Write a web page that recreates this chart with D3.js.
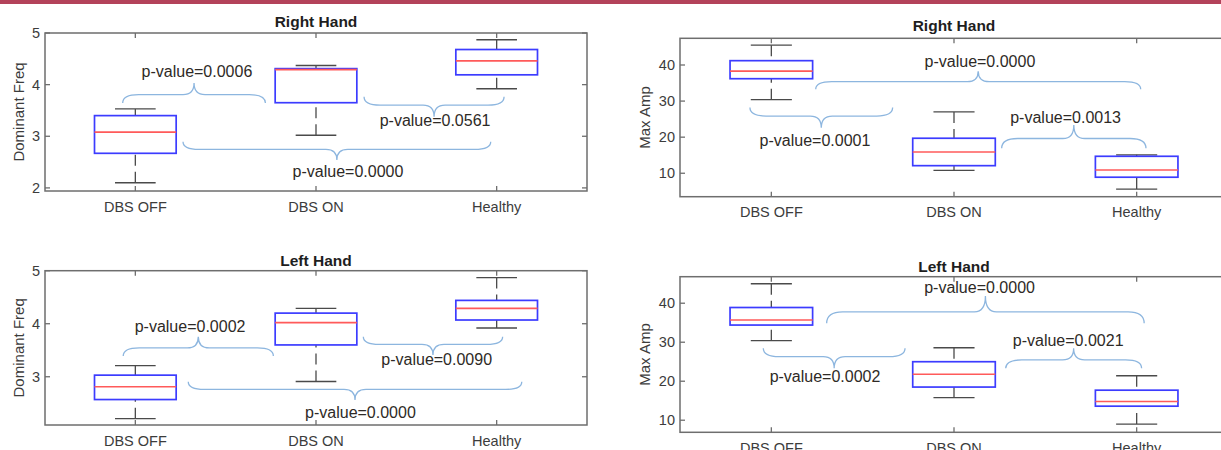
<!DOCTYPE html>
<html>
<head>
<meta charset="utf-8">
<script src="https://cdn.jsdelivr.net/npm/d3@7"></script>
<style>
  html, body { margin: 0; padding: 0; background: #fff; }
  svg { display: block; }
  text { font-family: "Liberation Sans", Arial, sans-serif; }
</style>
</head>
<body>
<svg id="chart" width="1221" height="450"></svg>
<script>
// ---------- DATA ----------
const categories = ["DBS OFF", "DBS ON", "Healthy"];

// box stats per category: [whiskerLow, q1, median, q3, whiskerHigh]
const rightFreqStats = [[2.10, 2.67, 3.08, 3.40, 3.53], [3.02, 3.65, 4.29, 4.31, 4.37], [3.92, 4.19, 4.46, 4.68, 4.87]];
const rightAmpStats  = [[30.4, 36.2, 38.3, 41.2, 45.5], [10.8, 12.1, 15.9, 19.7, 27.0], [5.6, 8.9, 10.9, 14.7, 15.1]];
const leftFreqStats  = [[2.21, 2.57, 2.81, 3.03, 3.21], [2.91, 3.60, 4.02, 4.20, 4.29], [3.92, 4.07, 4.29, 4.44, 4.87]];
const leftAmpStats   = [[30.4, 34.4, 35.7, 38.9, 45.0], [15.8, 18.5, 21.8, 25.0, 28.6], [9.0, 13.6, 14.8, 17.7, 21.4]];

const rightFreqTicks = [2, 3, 4, 5];
const leftFreqTicks  = [3, 4, 5];
const ampTicks       = [10, 20, 30, 40];

const rightFreqP = ["0.0006", "0.0561", "0.0000"];
const rightAmpP  = ["0.0000", "0.0001", "0.0013"];
const leftFreqP  = ["0.0002", "0.0090", "0.0000"];
const leftAmpP   = ["0.0000", "0.0002", "0.0021"];

// brace annotations in data coordinates (category units / y units)
const rightFreqBraces = [
  {x0: 0.93, x1: 1.72, yEnd: 3.644, yTip: 4.032, lx: 1.341, ly: 4.264},
  {x0: 2.266, x1: 3.041, yEnd: 3.766, yTip: 3.379, lx: 2.659, ly: 3.315},
  {x0: 1.264, x1: 2.967, yEnd: 2.895, yTip: 2.540, lx: 2.177, ly: 2.327}
];
const rightAmpBraces = [
  {x0: 1.243, x1: 3.022, yEnd: 33.3, yTip: 38.3, lx: 2.142, ly: 41.1},
  {x0: 0.883, x1: 1.664, yEnd: 28.2, yTip: 22.6, lx: 1.239, ly: 19.2},
  {x0: 2.261, x1: 3.051, yEnd: 16.9, yTip: 23.4, lx: 2.611, ly: 25.5}
];
const leftFreqBraces = [
  {x0: 0.933, x1: 1.764, yEnd: 3.391, yTip: 3.755, lx: 1.303, ly: 3.957},
  {x0: 2.262, x1: 3.033, yEnd: 3.755, yTip: 3.410, lx: 2.668, ly: 3.329},
  {x0: 1.293, x1: 3.139, yEnd: 2.906, yTip: 2.561, lx: 2.246, ly: 2.329}
];
const leftAmpBraces = [
  {x0: 1.303, x1: 3.041, yEnd: 34.85, yTip: 41.85, lx: 2.140, ly: 44.0},
  {x0: 0.956, x1: 1.732, yEnd: 28.44, yTip: 23.31, lx: 1.294, ly: 21.4},
  {x0: 2.283, x1: 3.027, yEnd: 23.31, yTip: 28.44, lx: 2.625, ly: 30.57}
];

// ---------- LAYOUT ----------
const panels = [
  {title: "Right Hand", ylabel: "Dominant Freq", stats: rightFreqStats, ticks: rightFreqTicks, ydom: [1.94, 5],
   box: {l: 45, r: 587, t: 33, b: 191}, braces: rightFreqBraces, pv: rightFreqP, titleOff: 5.7, ylabX: 18.3},
  {title: "Right Hand", ylabel: "Max Amp", stats: rightAmpStats, ticks: ampTicks, ydom: [3.5, 47.4],
   box: {l: 680, r: 1228, t: 38.3, b: 196.7}, braces: rightAmpBraces, pv: rightAmpP, titleOff: 7, ylabX: 645},
  {title: "Left Hand", ylabel: "Dominant Freq", stats: leftFreqStats, ticks: leftFreqTicks, ydom: [2.09, 5],
   box: {l: 45, r: 587, t: 270.7, b: 425}, braces: leftFreqBraces, pv: leftFreqP, titleOff: 5, ylabX: 18.3},
  {title: "Left Hand", ylabel: "Max Amp", stats: leftAmpStats, ticks: ampTicks, ydom: [6.9, 46.8],
   box: {l: 680, r: 1228, t: 276.7, b: 432.3}, braces: leftAmpBraces, pv: leftAmpP, titleOff: 5, ylabX: 645}
];

const svg = d3.select("#chart");

// top band
svg.append("rect").attr("x", 0).attr("y", 0).attr("width", 1221).attr("height", 4).attr("fill", "#b3425a");

const axisColor = "#6e6e6e";
const tickLen = 5;
const boxW = 0.452, capW = 0.225;

panels.forEach(p => {
  const b = p.box;
  const x = d3.scaleLinear().domain([0.5, 3.5]).range([b.l, b.r]);
  const y = d3.scaleLinear().domain(p.ydom).range([b.b, b.t]);
  const g = svg.append("g");

  // title
  g.append("text").attr("x", (b.l + b.r) / 2).attr("y", b.t - p.titleOff)
    .attr("text-anchor", "middle").attr("font-weight", "bold").attr("font-size", "15.5px")
    .attr("fill", "#1e1e1e").text(p.title);

  // y label
  g.append("text").attr("transform", `translate(${p.ylabX},${(b.t + b.b) / 2}) rotate(-90)`)
    .attr("text-anchor", "middle").attr("dy", "0.35em").attr("font-size", "15px")
    .attr("fill", "#3c3c3c").text(p.ylabel);

  // boxes
  p.stats.forEach((s, i) => {
    const c = i + 1;
    const [wl, q1, md, q3, wh] = s;
    const bg = g.append("g");
    // whiskers (dashed, drawn from cap towards box)
    bg.append("line").attr("x1", x(c)).attr("x2", x(c)).attr("y1", y(wh)).attr("y2", y(q3))
      .attr("stroke", "#4a4a4a").attr("stroke-width", 1.3).attr("stroke-dasharray", "11,6");
    bg.append("line").attr("x1", x(c)).attr("x2", x(c)).attr("y1", y(wl)).attr("y2", y(q1))
      .attr("stroke", "#4a4a4a").attr("stroke-width", 1.3).attr("stroke-dasharray", "11,6");
    // caps
    [wl, wh].forEach(v => {
      bg.append("line").attr("x1", x(c - capW / 2)).attr("x2", x(c + capW / 2)).attr("y1", y(v)).attr("y2", y(v))
        .attr("stroke", "#4a4a4a").attr("stroke-width", 1.4);
    });
    // box
    bg.append("rect").attr("x", x(c - boxW / 2)).attr("y", y(q3))
      .attr("width", x(c + boxW / 2) - x(c - boxW / 2)).attr("height", y(q1) - y(q3))
      .attr("fill", "none").attr("stroke", "#3c3cff").attr("stroke-width", 1.7);
    // median
    bg.append("line").attr("x1", x(c - boxW / 2)).attr("x2", x(c + boxW / 2)).attr("y1", y(md)).attr("y2", y(md))
      .attr("stroke", "#ff5a5a").attr("stroke-width", 1.6);
  });

  // frame
  g.append("rect").attr("x", b.l).attr("y", b.t).attr("width", b.r - b.l).attr("height", b.b - b.t)
    .attr("fill", "none").attr("stroke", axisColor).attr("stroke-width", 1.5);

  // x ticks (bottom & top, inward)
  categories.forEach((cat, i) => {
    const cx = x(i + 1);
    g.append("line").attr("x1", cx).attr("x2", cx).attr("y1", b.b).attr("y2", b.b - tickLen)
      .attr("stroke", axisColor).attr("stroke-width", 1.3);
    g.append("line").attr("x1", cx).attr("x2", cx).attr("y1", b.t).attr("y2", b.t + tickLen)
      .attr("stroke", axisColor).attr("stroke-width", 1.3);
    g.append("text").attr("x", cx).attr("y", b.b + 20.5).attr("text-anchor", "middle")
      .attr("font-size", "14.5px").attr("fill", "#3c3c3c").text(cat);
  });

  // y ticks (left & right, inward)
  p.ticks.forEach(t => {
    const ty = y(t);
    g.append("line").attr("x1", b.l).attr("x2", b.l + tickLen).attr("y1", ty).attr("y2", ty)
      .attr("stroke", axisColor).attr("stroke-width", 1.3);
    g.append("line").attr("x1", b.r).attr("x2", b.r - tickLen).attr("y1", ty).attr("y2", ty)
      .attr("stroke", axisColor).attr("stroke-width", 1.3);
    g.append("text").attr("x", b.l - 5).attr("y", ty).attr("dy", "0.36em").attr("text-anchor", "end")
      .attr("font-size", "14.5px").attr("fill", "#3c3c3c").text(t);
  });

  // braces
  p.braces.forEach((br, i) => {
    const x0 = x(br.x0), x1 = x(br.x1), xm = (x0 + x1) / 2;
    const yE = y(br.yEnd), yT = y(br.yTip);
    const yL = yE + 0.42 * (yT - yE);
    const er = 16, tr = 11;
    const path = d3.path();
    path.moveTo(x0, yE);
    path.quadraticCurveTo(x0, yL, x0 + er, yL);
    path.lineTo(xm - tr, yL);
    path.quadraticCurveTo(xm, yL, xm, yT);
    path.quadraticCurveTo(xm, yL, xm + tr, yL);
    path.lineTo(x1 - er, yL);
    path.quadraticCurveTo(x1, yL, x1, yE);
    g.append("path").attr("d", path.toString()).attr("fill", "none")
      .attr("stroke", "#8db6df").attr("stroke-width", 1.3);
    g.append("text").attr("x", x(br.lx)).attr("y", y(br.ly)).attr("dy", "0.36em")
      .attr("text-anchor", "middle").attr("font-size", "16px").attr("fill", "#2e2a26")
      .text("p-value=" + p.pv[i]);
  });
});
</script>
</body>
</html>
